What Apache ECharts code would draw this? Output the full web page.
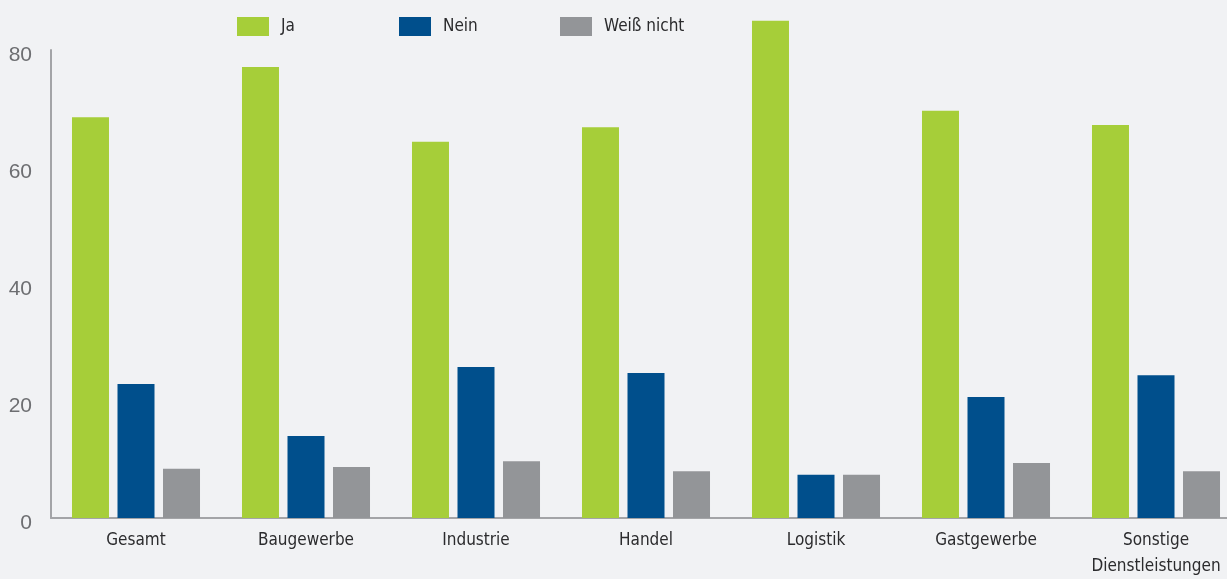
<!DOCTYPE html>
<html>
<head>
<meta charset="utf-8">
<script src="https://cdn.jsdelivr.net/npm/echarts@6/dist/echarts.min.js"></script>
<style>
  html, body { margin: 0; padding: 0; background: #f1f2f4; }
  #chart { width: 1227px; height: 579px; }
</style>
</head>
<body>
<div id="chart"></div>
<script>
// Branchen (x-axis categories)
const categories = ['Gesamt', 'Baugewerbe', 'Industrie', 'Handel', 'Logistik', 'Gastgewerbe', 'Sonstige\nDienstleistungen'];

// Antworten in Prozent
const ja         = [68.5, 77.1, 64.3, 66.8, 85.0, 69.6, 67.2];
const nein       = [22.9, 14.0, 25.8, 24.8, 7.4, 20.7, 24.4];
const weissNicht = [8.4, 8.7, 9.7, 8.0, 7.4, 9.4, 8.0];

const yTicks = [0, 20, 40, 60, 80];

const seriesNames = ['Ja', 'Nein', 'Weiß nicht'];
const colors = ['#a6ce39', '#004f8c', '#939598'];

const labelFont = '"DejaVu Sans Condensed", "Liberation Sans Narrow", "Open Sans", sans-serif';

const chart = echarts.init(document.getElementById('chart'), null, { renderer: 'canvas' });

// one legend block per answer so the entries sit at fixed positions
const legendLeft = [237, 399, 560];
const legends = seriesNames.map((name, i) => ({
  data: [name],
  left: legendLeft[i],
  top: 17,
  padding: 0,
  itemWidth: 32,
  itemHeight: 19,
  icon: 'rect',
  selectedMode: false,
  textStyle: {
    fontFamily: labelFont,
    fontSize: 17,
    lineHeight: 19,
    color: '#2b2b2d',
    padding: [0, 0, 0, 7]
  }
}));

chart.setOption({
  backgroundColor: '#f1f2f4',
  animation: false,
  legend: legends,
  grid: { left: 51, right: -14, top: 50, bottom: 61, containLabel: false, outerBoundsMode: 'none' },
  xAxis: {
    type: 'category',
    data: categories,
    axisLine: { show: true, lineStyle: { color: '#a3a4a7', width: 2 } },
    axisTick: { show: false },
    axisLabel: {
      interval: 0,
      margin: 10,
      fontFamily: labelFont,
      fontSize: 17,
      lineHeight: 26,
      color: '#2b2b2d'
    }
  },
  yAxis: {
    type: 'value',
    min: 0,
    max: 80,
    interval: 20,
    axisLine: { show: true, lineStyle: { color: '#a3a4a7', width: 2 } },
    axisTick: { show: false },
    splitLine: { show: false },
    axisLabel: {
      margin: 19,
      fontFamily: '"Liberation Sans", Arial, sans-serif',
      fontSize: 21,
      color: '#6d6e71',
      verticalAlign: 'top',
      lineHeight: 10,
      formatter: v => (yTicks.includes(v) ? String(v) : '')
    }
  },
  series: [
    { name: seriesNames[0], type: 'bar', data: ja, barWidth: 37, barGap: '23%', clip: false, itemStyle: { color: colors[0] } },
    { name: seriesNames[1], type: 'bar', data: nein, barWidth: 37, barGap: '23%', clip: false, itemStyle: { color: colors[1] } },
    { name: seriesNames[2], type: 'bar', data: weissNicht, barWidth: 37, barGap: '23%', clip: false, itemStyle: { color: colors[2] } }
  ]
});
</script>
</body>
</html>
